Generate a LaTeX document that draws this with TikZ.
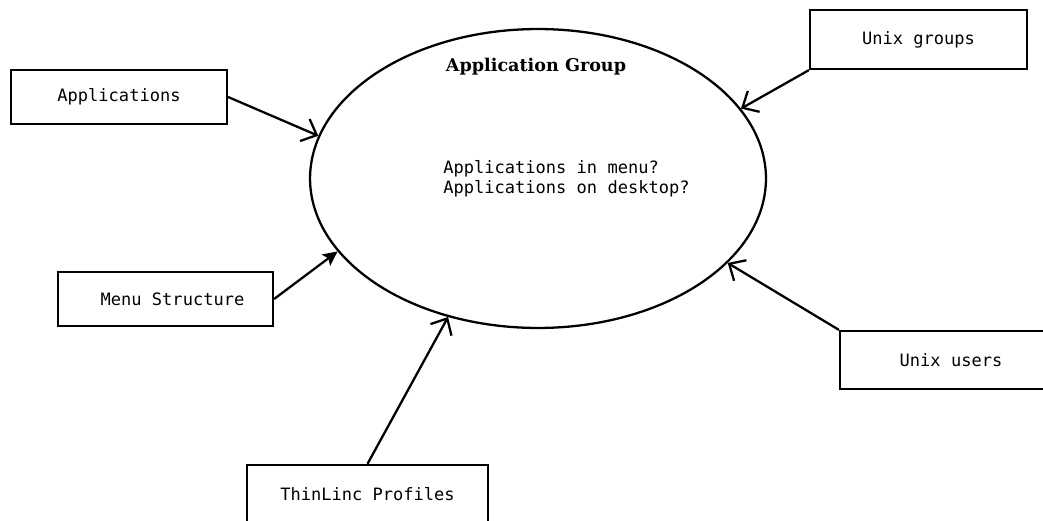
\documentclass[tikz,border=0pt]{standalone}
\usepackage{fontspec}
\setmonofont{DejaVu Sans Mono}
\newfontfamily\titlefont{DejaVu Serif}
\usetikzlibrary{shapes,arrows.meta,positioning}

\begin{document}
\begin{tikzpicture}[
            x=0.02cm, y=-0.02cm,
            box/.style={rectangle, draw, line width=1.3pt, fill=white,
                        minimum height=1.08cm, text centered,
                        font=\ttfamily\fontsize{9.7}{11.5}\selectfont},
            arrow/.style={-{Straight Barb[length=2.6mm,width=4.8mm]}, line width=1.3pt},
            filledarrow/.style={-{Stealth[length=2.9mm,width=2.8mm,inset=0.6mm]}, line width=1.3pt}
        ]
            \useasboundingbox (0,0) rectangle (1043,520);
            \clip (0,0) rectangle (1043,520);

            \node[ellipse, draw, line width=1.3pt, minimum width=9.12cm, minimum height=5.98cm] (grp) at (538,178.5) {};
            \node[font=\titlefont\bfseries\fontsize{10}{12}\selectfont] (title) at (536,67) {Application Group};
            \node[anchor=west, align=left, inner sep=0pt, font=\ttfamily\fontsize{9.7}{11.5}\selectfont] (questions) at (443,179)
                {Applications in menu?\\Applications on desktop?};

            \node[box, minimum width=4.32cm] (apps) at (119,97) {Applications};
            \node[box, minimum width=4.34cm, minimum height=1.18cm] (ugroups) at (918.5,39.5) {Unix groups};
            \node[box, minimum width=4.3cm] (menu) at (165.5,299) {\hspace*{0.28cm}Menu Structure};
            \node[box, minimum width=4.44cm, minimum height=1.16cm] (uusers) at (951,360) {Unix users};
            \node[box, minimum width=4.82cm, minimum height=1.3cm, text depth=0.16cm] (profiles) at (367.5,497.5) {ThinLinc Profiles};

            \draw[arrow] (apps.east) -- (grp.169);
            \draw[arrow] (ugroups.south west) -- (grp.19);
            \draw[filledarrow] (menu.east) -- (grp.200.6);
            \draw[arrow] (uusers.north west) -- (grp.336.5);
            \draw[arrow] (profiles.north) -- (grp.237.2);
        \end{tikzpicture}
\end{document}
